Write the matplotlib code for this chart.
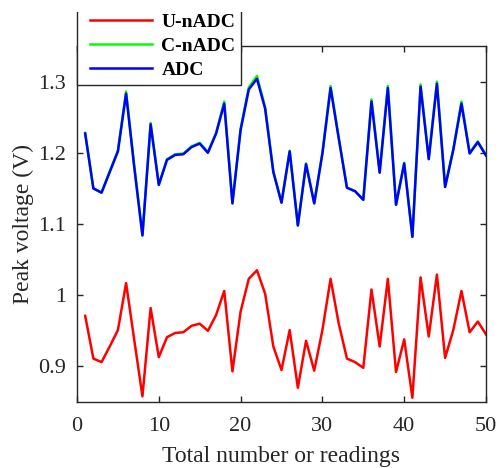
import matplotlib
matplotlib.use("Agg")
import matplotlib.pyplot as plt
from matplotlib.legend_handler import HandlerLine2D
from matplotlib.patches import Rectangle

readings = list(range(1, 51))
u_nadc = [0.971, 0.911, 0.906, 0.928, 0.951, 1.017, 0.937, 0.858, 0.982, 0.913,
          0.941, 0.947, 0.948, 0.957, 0.960, 0.950, 0.972, 1.006, 0.893, 0.977,
          1.023, 1.035, 1.002, 0.928, 0.895, 0.951, 0.870, 0.936, 0.894, 0.951,
          1.023, 0.960, 0.911, 0.906, 0.898, 1.008, 0.928, 1.023, 0.892, 0.938,
          0.856, 1.025, 0.942, 1.029, 0.912, 0.951, 1.006, 0.948, 0.963, 0.945]
adc = [1.227, 1.150, 1.144, 1.173, 1.202, 1.283, 1.180, 1.084, 1.240, 1.155,
       1.190, 1.197, 1.198, 1.208, 1.213, 1.200, 1.227, 1.269, 1.129, 1.232,
       1.289, 1.304, 1.262, 1.173, 1.130, 1.202, 1.098, 1.184, 1.129, 1.199,
       1.291, 1.220, 1.151, 1.146, 1.134, 1.272, 1.172, 1.291, 1.127, 1.185,
       1.082, 1.293, 1.191, 1.297, 1.152, 1.204, 1.269, 1.199, 1.215, 1.196]
c_nadc = [1.228, 1.150, 1.144, 1.174, 1.203, 1.286, 1.181, 1.084, 1.242, 1.155,
          1.191, 1.198, 1.199, 1.209, 1.214, 1.201, 1.228, 1.272, 1.129, 1.234,
          1.292, 1.308, 1.264, 1.174, 1.130, 1.203, 1.098, 1.185, 1.129, 1.200,
          1.294, 1.221, 1.151, 1.146, 1.134, 1.275, 1.173, 1.294, 1.127, 1.186,
          1.082, 1.296, 1.192, 1.300, 1.152, 1.205, 1.272, 1.200, 1.216, 1.197]

xticks = [0, 10, 20, 30, 40, 50]
yticks = [0.9, 1.0, 1.1, 1.2, 1.3]
ytick_labels = ["0.9", "1", "1.1", "1.2", "1.3"]

plt.rcParams['font.family'] = ['Liberation Serif', 'DejaVu Serif']
fig = plt.figure(figsize=(5.02, 4.68), dpi=100)
ax = fig.add_axes([77/502, 1-402/468, (486-77)/502, (402-46)/468])

l1, = ax.plot(readings, u_nadc, color='#ff0000', lw=1.8, label='U-nADC')
l2, = ax.plot(readings, c_nadc, color='#00ff00', lw=1.8, label='C-nADC')
l3, = ax.plot(readings, adc, color='#0000ff', lw=1.8, label='ADC')

ax.set_xlim(0, 50)
ax.set_ylim(0.85, 1.35)
ax.set_xticks(xticks)
ax.set_yticks(yticks)
ax.set_yticklabels(ytick_labels)
ax.tick_params(direction='in', length=4, width=1, top=True, right=True,
               labelsize=16, colors='#262626')
ax.tick_params(axis='x', pad=11)
ax.tick_params(axis='y', pad=8)
for lab in ax.get_xticklabels() + ax.get_yticklabels():
    lab.set_color('#262626')
for s in ax.spines.values():
    s.set_color('#262626')
    s.set_linewidth(1.0)

ax.set_xlabel('Total number or readings', fontsize=17, color='#262626', labelpad=7)
ax.set_ylabel('Peak voltage (V)', fontsize=17, color='#262626', labelpad=3)

hmap = {h: HandlerLine2D(numpoints=2, marker_pad=0.39) for h in (l1, l2, l3)}
leg = ax.legend(handles=[l1, l2, l3], handler_map=hmap,
                loc='lower left', bbox_to_anchor=(77/502, 1-85/468),
                bbox_transform=fig.transFigure, borderaxespad=0,
                prop={'size': 14, 'weight': 'bold'}, frameon=True, fancybox=False,
                handlelength=3.96, handletextpad=0.08, labelspacing=0.34,
                borderpad=0.3)
leg.get_frame().set_edgecolor('#262626')
leg.get_frame().set_linewidth(1.0)
leg.get_frame().set_alpha(1)

fig.patches.append(Rectangle((0, 1-12/468), 1, 12/468, transform=fig.transFigure,
                             facecolor='white', edgecolor='none', zorder=20))

fig.savefig('out.png', dpi=100)
